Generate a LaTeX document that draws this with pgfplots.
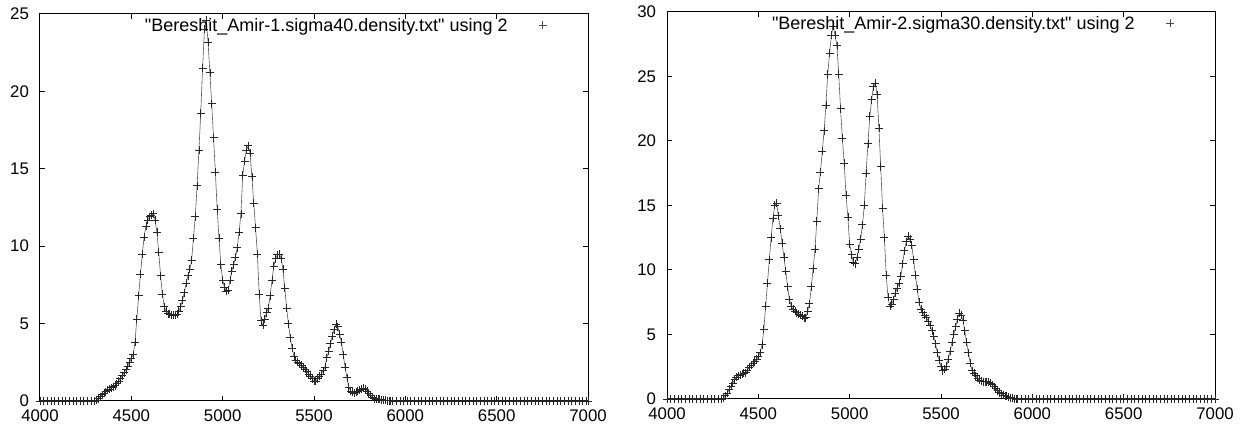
\documentclass[border=0pt]{standalone}
\usepackage{fontspec}
\setmainfont{Liberation Sans}[Ligatures=TeXOff]
\usepackage{pgfplots}
\usepackage{pgfplotstable}
\pgfplotsset{compat=1.18}

% Bereshit_Amir-1, sigma40
\pgfplotstableread[row sep=\\]{
x y\\
4000 0\\ 4020 0\\ 4040 0\\ 4060 0\\ 4080 0\\ 4100 0\\ 4120 0\\ 4140 0\\
4160 0\\ 4180 0\\ 4200 0\\ 4220 0\\ 4240 0\\ 4260 0\\ 4280 0\\
4300 0.0\\ 4310 0.05\\ 4320 0.15\\ 4330 0.28\\ 4340 0.4\\ 4350 0.5\\
4360 0.6\\ 4370 0.7\\ 4380 0.78\\ 4390 0.85\\ 4400 0.92\\ 4410 1.0\\
4420 1.12\\ 4430 1.28\\ 4440 1.45\\ 4450 1.64\\ 4460 1.82\\ 4470 2.02\\
4480 2.25\\ 4490 2.5\\ 4500 2.75\\ 4510 3.0\\ 4520 3.8\\ 4530 5.3\\
4540 6.8\\ 4550 8.2\\ 4560 9.5\\ 4570 10.6\\ 4580 11.3\\ 4590 11.7\\
4600 11.9\\ 4610 12.0\\ 4620 12.1\\ 4630 11.7\\ 4640 10.9\\ 4650 9.6\\
4660 8.1\\ 4670 6.9\\ 4680 6.1\\ 4690 5.8\\ 4700 5.65\\ 4710 5.6\\
4720 5.55\\ 4730 5.55\\ 4740 5.55\\ 4750 5.6\\ 4760 5.8\\ 4770 6.1\\
4780 6.5\\ 4790 7.0\\ 4800 7.6\\ 4810 8.1\\ 4820 8.5\\ 4830 9.1\\
4840 10.5\\ 4850 11.9\\ 4860 13.9\\ 4870 16.2\\ 4880 18.6\\ 4890 21.5\\
4900 24.0\\ 4910 24.6\\ 4920 23.2\\ 4930 21.2\\ 4940 19.2\\ 4950 17.0\\
4960 14.8\\ 4970 12.4\\ 4980 10.5\\ 4990 8.8\\ 5000 7.8\\ 5010 7.35\\
5020 7.1\\ 5030 7.15\\ 5040 7.8\\ 5050 8.4\\ 5060 8.8\\ 5070 9.3\\
5080 9.9\\ 5090 10.9\\ 5100 12.1\\ 5110 14.6\\ 5120 15.5\\ 5130 16.2\\
5140 16.5\\ 5150 16.0\\ 5160 14.5\\ 5170 12.8\\ 5180 11.2\\ 5190 9.5\\
5200 6.9\\ 5210 5.2\\ 5220 4.9\\ 5230 5.3\\ 5240 5.7\\ 5250 6.0\\
5260 6.8\\ 5270 7.8\\ 5280 8.7\\ 5290 9.2\\ 5300 9.45\\ 5310 9.5\\
5320 9.2\\ 5330 8.5\\ 5340 7.3\\ 5350 6.0\\ 5360 5.0\\ 5370 4.1\\
5380 3.4\\ 5390 2.9\\ 5400 2.65\\ 5410 2.5\\ 5420 2.4\\ 5430 2.3\\
5440 2.2\\ 5450 2.05\\ 5460 1.9\\ 5470 1.75\\ 5480 1.6\\ 5490 1.45\\
5500 1.3\\ 5510 1.3\\ 5520 1.45\\ 5530 1.6\\ 5540 1.75\\ 5550 1.95\\
5560 2.2\\ 5570 2.8\\ 5580 3.2\\ 5590 3.7\\ 5600 4.2\\ 5610 4.6\\
5620 4.95\\ 5630 4.8\\ 5640 4.3\\ 5650 3.8\\ 5660 3.0\\ 5670 2.2\\
5680 1.5\\ 5690 0.9\\ 5700 0.65\\ 5710 0.55\\ 5720 0.5\\ 5730 0.55\\
5740 0.62\\ 5750 0.7\\ 5760 0.78\\ 5770 0.82\\ 5780 0.75\\ 5790 0.62\\
5800 0.5\\ 5810 0.38\\ 5820 0.25\\ 5830 0.16\\ 5840 0.12\\ 5850 0.1\\
5860 0.1\\ 5870 0.09\\ 5880 0.07\\ 5890 0.05\\ 5900 0.03\\ 5910 0.02\\
5920 0.01\\ 5930 0.0\\
5950 0\\ 5970 0\\ 5990 0\\ 6010 0\\ 6030 0\\ 6050 0\\ 6070 0\\ 6090 0\\
6110 0\\ 6130 0\\ 6150 0\\ 6170 0\\ 6190 0\\ 6210 0\\ 6230 0\\ 6250 0\\
6270 0\\ 6290 0\\ 6310 0\\ 6330 0\\ 6350 0\\ 6370 0\\ 6390 0\\ 6410 0\\
6430 0\\ 6450 0\\ 6470 0\\ 6490 0\\ 6510 0\\ 6530 0\\ 6550 0\\ 6570 0\\
6590 0\\ 6610 0\\ 6630 0\\ 6650 0\\ 6670 0\\ 6690 0\\ 6710 0\\ 6730 0\\
6750 0\\ 6770 0\\ 6790 0\\ 6810 0\\ 6830 0\\ 6850 0\\ 6870 0\\ 6890 0\\
6910 0\\ 6930 0\\ 6950 0\\ 6970 0\\ 6990 0\\ 7000 0\\
}\amirone

% Bereshit_Amir-2, sigma30
\pgfplotstableread[row sep=\\]{
x y\\
4000 0\\ 4020 0\\ 4040 0\\ 4060 0\\ 4080 0\\ 4100 0\\ 4120 0\\ 4140 0\\
4160 0\\ 4180 0\\ 4200 0\\ 4220 0\\ 4240 0\\ 4260 0\\ 4280 0\\
4300 0.0\\ 4310 0.08\\ 4320 0.25\\ 4330 0.45\\ 4340 0.75\\ 4350 1.0\\
4360 1.25\\ 4370 1.5\\ 4380 1.7\\ 4390 1.82\\ 4400 1.88\\ 4410 1.92\\
4420 1.98\\ 4430 2.05\\ 4440 2.25\\ 4450 2.45\\ 4460 2.62\\ 4470 2.8\\
4480 2.95\\ 4490 3.1\\ 4500 3.3\\ 4510 3.6\\ 4520 4.2\\ 4530 5.4\\
4540 7.2\\ 4550 9.0\\ 4560 10.8\\ 4570 12.5\\ 4580 14.0\\ 4590 15.0\\
4600 15.2\\ 4610 14.2\\ 4620 13.2\\ 4630 12.1\\ 4640 11.0\\ 4650 9.9\\
4660 8.7\\ 4670 7.7\\ 4680 7.2\\ 4690 6.95\\ 4700 6.8\\ 4710 6.7\\
4720 6.6\\ 4730 6.5\\ 4740 6.4\\ 4750 6.25\\ 4760 6.3\\ 4770 6.8\\
4780 7.4\\ 4790 8.7\\ 4800 10.1\\ 4810 11.6\\ 4820 13.8\\ 4830 16.3\\
4840 17.6\\ 4850 19.2\\ 4860 20.8\\ 4870 22.8\\ 4880 25.2\\ 4890 26.8\\
4900 28.2\\ 4910 28.9\\ 4920 28.2\\ 4930 27.4\\ 4940 25.2\\ 4950 22.5\\
4960 20.2\\ 4970 18.3\\ 4980 15.8\\ 4990 14.1\\ 5000 12.0\\ 5010 11.2\\
5020 10.6\\ 5030 10.5\\ 5040 11.0\\ 5050 11.6\\ 5060 12.4\\ 5070 13.5\\
5080 15.0\\ 5090 17.5\\ 5100 19.8\\ 5110 21.9\\ 5120 23.2\\ 5130 24.2\\
5140 24.5\\ 5150 23.6\\ 5160 21.0\\ 5170 18.0\\ 5180 14.8\\ 5190 12.5\\
5200 9.6\\ 5210 7.9\\ 5220 7.2\\ 5230 7.35\\ 5240 7.7\\ 5250 8.2\\
5260 8.6\\ 5270 9.0\\ 5280 9.5\\ 5290 10.5\\ 5300 11.5\\ 5310 12.2\\
5320 12.6\\ 5330 12.4\\ 5340 11.9\\ 5350 10.8\\ 5360 9.6\\ 5370 8.5\\
5380 7.5\\ 5390 6.95\\ 5400 6.75\\ 5410 6.5\\ 5420 6.3\\ 5430 6.05\\
5440 5.7\\ 5450 5.3\\ 5460 4.85\\ 5470 4.3\\ 5480 3.6\\ 5490 3.0\\
5500 2.5\\ 5510 2.2\\ 5520 2.3\\ 5530 2.55\\ 5540 3.1\\ 5550 3.7\\
5560 4.4\\ 5570 5.0\\ 5580 5.6\\ 5590 6.2\\ 5600 6.65\\ 5610 6.5\\
5620 6.1\\ 5630 5.3\\ 5640 4.4\\ 5650 3.6\\ 5660 2.8\\ 5670 2.2\\
5680 2.0\\ 5690 1.8\\ 5700 1.6\\ 5710 1.45\\ 5720 1.4\\ 5730 1.35\\
5740 1.33\\ 5750 1.33\\ 5760 1.3\\ 5770 1.22\\ 5780 1.1\\ 5790 0.95\\
5800 0.8\\ 5810 0.65\\ 5820 0.5\\ 5830 0.4\\ 5840 0.32\\ 5850 0.26\\
5860 0.2\\ 5870 0.14\\ 5880 0.1\\ 5890 0.06\\ 5900 0.03\\ 5910 0.01\\
5920 0.0\\
5940 0\\ 5960 0\\ 5980 0\\ 6000 0\\ 6020 0\\ 6040 0\\ 6060 0\\ 6080 0\\
6100 0\\ 6120 0\\ 6140 0\\ 6160 0\\ 6180 0\\ 6200 0\\ 6220 0\\ 6240 0\\
6260 0\\ 6280 0\\ 6300 0\\ 6320 0\\ 6340 0\\ 6360 0\\ 6380 0\\ 6400 0\\
6420 0\\ 6440 0\\ 6460 0\\ 6480 0\\ 6500 0\\ 6520 0\\ 6540 0\\ 6560 0\\
6580 0\\ 6600 0\\ 6620 0\\ 6640 0\\ 6660 0\\ 6680 0\\ 6700 0\\ 6720 0\\
6740 0\\ 6760 0\\ 6780 0\\ 6800 0\\ 6820 0\\ 6840 0\\ 6860 0\\ 6880 0\\
6900 0\\ 6920 0\\ 6940 0\\ 6960 0\\ 6980 0\\ 7000 0\\
}\amirtwo

\pgfplotsset{
  gp/.style={
    scale only axis,
    width=274pt, height=193.5pt,
    xmin=4000, xmax=7000, ymin=0,
    xtick={4000,4500,...,7000},
    minor tick num=0,
    tick align=inside,
    major tick length=2.5pt,
    axis line style={line width=0.5pt},
    tick style={line width=0.5pt, black},
    scaled x ticks=false,
    /pgf/number format/set thousands separator={},
    /pgf/number format/assume math mode=true,
    font=\fontsize{8.4}{10}\selectfont,
    xticklabel style={yshift=-1pt},
    yticklabel style={xshift=-2pt},
    legend plot pos=right,
    legend cell align=right,
    legend image code/.code={
      \path[draw=none] (0pt,0pt) -- (20pt,0pt);
      \path[draw=none] (18pt,0pt)
        node[inner sep=0pt] {\tikz\draw[black!70, line width=0.35pt]
          (-2pt,0pt) -- (2pt,0pt) (0pt,-2pt) -- (0pt,2pt);};
    },
    legend style={draw=none, fill=none, at={(1,1)}, anchor=north east,
      xshift=-17pt, yshift=1pt, inner sep=1pt,
      font=\fontsize{9.0}{11}\selectfont},
  },
  gpmarks/.style={only marks, mark=+, mark size=2pt,
    mark options={line width=0.35pt, draw=black!85}},
}

\begin{document}
\begin{tikzpicture}
\path[use as bounding box] (-20pt,-16pt) rectangle (600.5pt,200.5pt);

\begin{axis}[gp, at={(0,0)}, ymax=25, ytick={0,5,...,25}]
  \addplot[black!65, line width=0.3pt, forget plot] table {\amirone};
  \addplot[gpmarks] table {\amirone};
  \addlegendentry{\char34 Bereshit\_Amir-1.sigma40.density.txt\char34{} using 2}
\end{axis}

\begin{axis}[gp, at={(313.5pt,1pt)}, ymax=30, ytick={0,5,...,30}]
  \addplot[black!65, line width=0.3pt, forget plot] table {\amirtwo};
  \addplot[gpmarks] table {\amirtwo};
  \addlegendentry{\char34 Bereshit\_Amir-2.sigma30.density.txt\char34{} using 2}
\end{axis}
\end{tikzpicture}
\end{document}
